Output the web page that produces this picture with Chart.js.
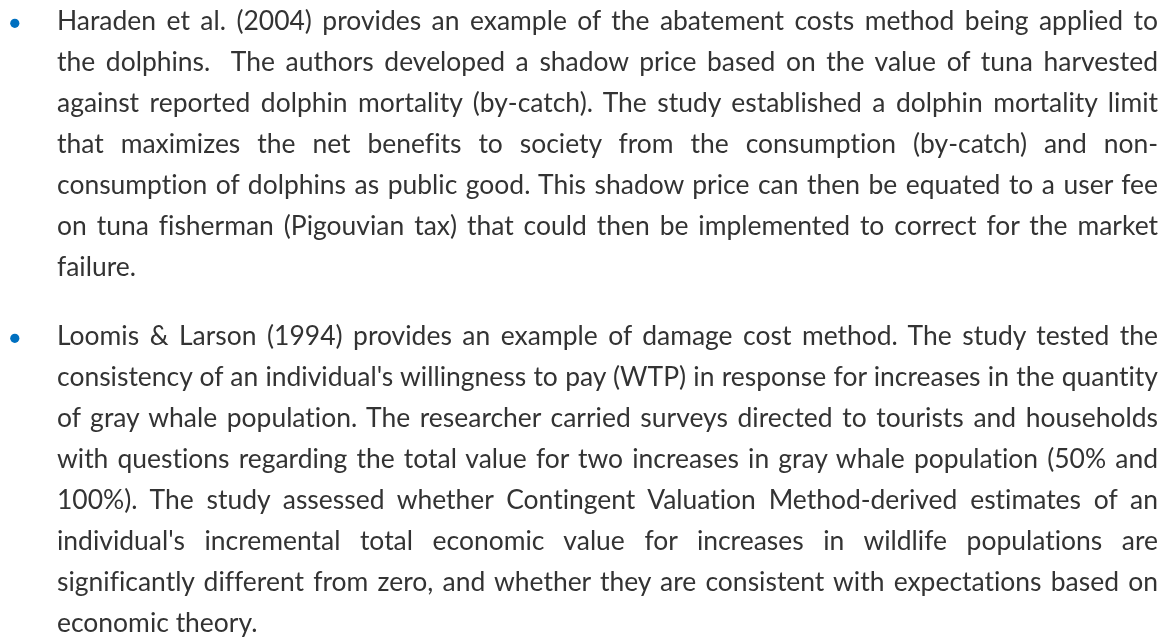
<!DOCTYPE html>
<html>
<head>
<meta charset="utf-8">
<script src="https://cdn.jsdelivr.net/npm/chart.js@4"></script>
<style>
html, body { margin: 0; padding: 0; background: #fff; }
#page { position: relative; width: 1176px; height: 640px; overflow: hidden; }
#bullets { position: absolute; left: 0; top: 0; }
.line {
  position: absolute;
  left: 57px;
  width: 1101px;
  white-space: nowrap;
  font-family: Lato, "Open Sans", sans-serif;
  font-weight: 400;
  font-variant-ligatures: none;
  color: #333;
  text-align: justify;
  text-align-last: justify;
}
.line.last { text-align-last: left; }
</style>
</head>
<body>
<div id="page">
  <canvas id="bullets" width="1176" height="640"></canvas>
  <div id="text"></div>
</div>
<script>
// the two bullet paragraphs, one entry per printed line
const paragraphOne = [
  'Haraden et al. (2004) provides an example of the abatement costs method being applied to',
  'the dolphins.\u00a0 The authors developed a shadow price based on the value of tuna harvested',
  'against reported dolphin mortality (by-catch). The study established a dolphin mortality limit',
  'that maximizes the net benefits to society from the consumption (by-catch) and non-',
  'consumption of dolphins as public good. This shadow price can then be equated to a user fee',
  'on tuna fisherman (Pigouvian tax) that could then be implemented to correct for the market',
  'failure.'
]
const paragraphTwo = [
  'Loomis & Larson (1994) provides an example of damage cost method. The study tested the',
  "consistency of an individual's willingness to pay (WTP) in response for increases in the quantity",
  'of gray whale population. The researcher carried surveys directed to tourists and households',
  'with questions regarding the total value for two increases in gray whale population (50% and',
  "100%). The study assessed whether Contingent Valuation Method-derived estimates of an",
  "individual's incremental total economic value for increases in wildlife populations are",
  'significantly different from zero, and whether they are consistent with expectations based on',
  'economic theory.'
]
const paragraphs = [paragraphOne, paragraphTwo]

// layout
const lineGap = 41
const paraGap = 28
const firstBaseline = 30.5
const textWidth = 1101
const bulletX = 14.8
const bulletTop = 23.3
const bulletColor = '#0070C0'
const fontName = 'Lato'
const fontWeight = '400'

// pick a font size close to the original widths, never wider than the column
let ctx = document.createElement('canvas').getContext('2d')
ctx.font = fontWeight + ' 100px ' + fontName
let fontSize = 204 * 100 / ctx.measureText('economic theory.').width
paragraphs.forEach(p => p.slice(0, -1).forEach(l => {
  fontSize = Math.min(fontSize, textWidth * 100 / ctx.measureText(l).width * 0.997)
}))
ctx.font = fontWeight + ' ' + fontSize + 'px ' + fontName
let m = ctx.measureText('Hg')
let baseOffset = (lineGap - (m.fontBoundingBoxAscent + m.fontBoundingBoxDescent)) / 2 + m.fontBoundingBoxAscent

let textBox = document.getElementById('text')
let startLine = []
let lineNo = 0
paragraphs.forEach((p, k) => {
  startLine.push(lineNo + k * paraGap / lineGap)
  p.forEach((l, i) => {
    let d = document.createElement('div')
    d.className = 'line' + (i === p.length - 1 ? ' last' : '')
    d.textContent = l
    d.style.fontSize = fontSize + 'px'
    d.style.lineHeight = lineGap + 'px'
    d.style.height = lineGap + 'px'
    d.style.top = (firstBaseline + (lineNo + i) * lineGap + k * paraGap - baseOffset) + 'px'
    textBox.appendChild(d)
  })
  lineNo += p.length
})

// bullets drawn as scatter points, y measured in text lines
let bulletChart = new Chart(document.getElementById('bullets'), {
  type: 'scatter',
  data: {
    datasets: [{
      data: startLine.map(v => ({ x: 0, y: v })),
      backgroundColor: bulletColor,
      borderWidth: 0,
      pointRadius: 4.6,
      pointHoverRadius: 4.6
    }]
  },
  options: {
    responsive: false,
    animation: false,
    events: [],
    layout: { padding: 0, autoPadding: false },
    plugins: { legend: { display: false }, tooltip: { enabled: false } },
    scales: {
      x: { display: false, min: -bulletX, max: 1176 - bulletX },
      y: { display: false, reverse: true, min: -bulletTop / lineGap, max: (640 - bulletTop) / lineGap }
    }
  }
})
</script>
</body>
</html>
